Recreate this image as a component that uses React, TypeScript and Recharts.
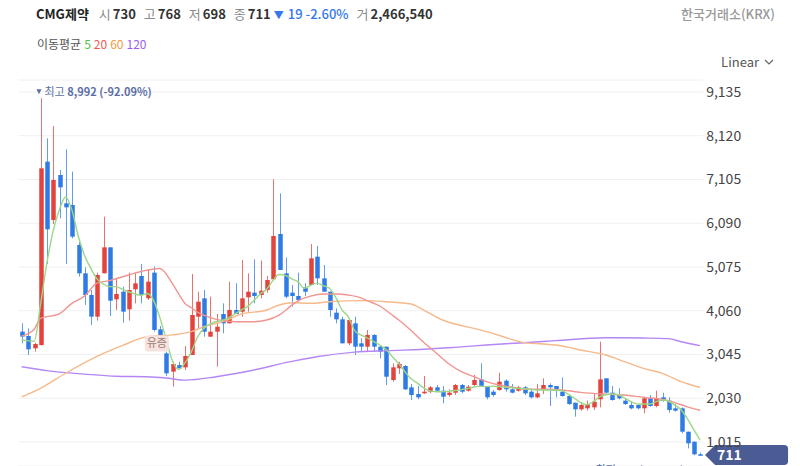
import { ComposedChart, Bar, Line, XAxis, YAxis, CartesianGrid, ReferenceDot } from 'recharts';

const FONT = '"Noto Sans CJK KR", "Noto Sans", sans-serif';
const RED = '#e3433d';
const BLUE = '#2f7be6';

// daily candles, oldest first
const opens = [
  3575, 3474, 3188, 3265, 7519, 6165, 7209, 6552, 6513, 5585, 4928, 4426, 3923, 4928, 5531, 4325, 4503, 4093, 4557, 4866,
  4348, 4944, 3629, 3072, 2647, 2801, 2747, 3033, 3922, 4348, 3458, 3574, 3984, 3768, 4077, 4038, 4371, 4479, 4425, 4541,
  4789, 5840, 4928, 4479, 4402, 4600, 4657, 5314, 4812, 4502, 4015, 3861, 3304, 3768, 3304, 3226, 3497, 3226, 3226, 2453,
  2724, 2778, 2283, 2128, 2144, 2182, 2283, 2205, 2105, 2159, 2337, 2205, 2337, 2468, 2314, 2182, 2221, 2437, 2237, 2205,
  2283, 2182, 2051, 2221, 2337, 2314, 2182, 2082, 1927, 1773, 1796, 1819, 2005, 2492, 2159, 2105, 1974, 1873, 1873, 1796,
  2028, 1850, 2051, 1974, 1796, 1796, 1254, 1022, 730,
];
const highs = [
  3768, 3652, 3320, 8992, 8060, 8346, 7325, 7805, 7287, 5663, 5067, 4541, 4944, 6243, 5531, 4812, 4619, 4944, 4928, 5145,
  5021, 5083, 3706, 3111, 2879, 2879, 3242, 4912, 4502, 4541, 4386, 3984, 4232, 4734, 4696, 5237, 4928, 5252, 5222, 4866,
  7108, 6784, 5299, 4657, 4943, 4700, 5608, 5562, 5121, 4502, 4116, 3922, 3861, 3922, 3420, 3613, 3520, 3265, 3226, 2840,
  2878, 2801, 2360, 2314, 2546, 2314, 2337, 2314, 2237, 2360, 2360, 2337, 2569, 2840, 2314, 2221, 2623, 2468, 2360, 2314,
  2314, 2221, 2360, 2492, 2376, 2314, 2515, 2105, 1927, 1927, 1974, 2128, 3342, 2492, 2314, 2260, 2028, 1950, 1890, 2066,
  2105, 2205, 2159, 2051, 1896, 1819, 1254, 1022, 768,
];
const lows = [
  3304, 3034, 3111, 3250, 5145, 6073, 6204, 5145, 5740, 4851, 4194, 3730, 3830, 4928, 3938, 4078, 3784, 3830, 4232, 4232,
  4310, 3575, 3304, 2546, 2299, 2724, 2685, 3033, 3652, 3458, 3458, 2762, 3536, 3768, 3984, 3922, 4038, 4232, 4348, 4479,
  4789, 5005, 4348, 4154, 4270, 4400, 4657, 4657, 4502, 3922, 3768, 3304, 3265, 3033, 3110, 3110, 3110, 2956, 2337, 2414,
  2592, 2221, 1989, 2005, 2128, 2144, 2182, 1912, 2066, 2105, 2144, 2182, 2314, 2298, 2005, 2066, 2205, 2182, 2144, 2182,
  2105, 2028, 2028, 2128, 1850, 2051, 2066, 1873, 1603, 1742, 1742, 1757, 1819, 2144, 1974, 2005, 1873, 1773, 1773, 1680,
  1834, 1819, 1950, 1695, 1719, 1216, 868, 705, 698,
];
const closes = [
  3459, 3165, 3289, 7364, 5949, 7093, 6923, 6459, 5779, 4928, 4426, 3923, 4889, 5531, 4294, 4449, 4039, 4541, 4696, 4426,
  4735, 3614, 3498, 2608, 2825, 2724, 3010, 3961, 4270, 3574, 3574, 3690, 3768, 4077, 3984, 4348, 4502, 4402, 4526, 4773,
  5794, 5005, 4386, 4402, 4309, 4500, 5276, 4812, 4502, 4077, 3861, 3304, 3845, 3226, 3226, 3497, 3226, 3110, 2530, 2747,
  2824, 2237, 2105, 2051, 2182, 2283, 2205, 2066, 2159, 2337, 2182, 2298, 2453, 2314, 2051, 2105, 2414, 2237, 2159, 2283,
  2144, 2051, 2144, 2337, 2283, 2205, 2082, 1896, 1773, 1873, 1896, 1950, 2468, 2159, 1989, 2028, 1896, 1796, 1796, 2028,
  1850, 2028, 1974, 1757, 1742, 1254, 984, 730, 711,
];

// moving averages as [candle index, value]
const ma5 = [
  [0, 3380], [1, 3360], [2, 3350], [3, 4200], [4, 5150], [5, 5900], [6, 6400], [7, 6700], [8, 6400], [9, 5800],
  [10, 5350], [11, 5050], [12, 4800], [13, 4680], [14, 4620], [15, 4620], [16, 4560], [17, 4500], [18, 4450], [19, 4420],
  [20, 4460], [21, 4300], [22, 3900], [23, 3400], [24, 2900], [25, 2700], [26, 2850], [27, 3100], [28, 3450], [29, 3650],
  [30, 3750], [31, 3810], [32, 3840], [33, 3900], [34, 3990], [35, 4080], [36, 4160], [37, 4300], [38, 4450], [39, 4560],
  [40, 4760], [41, 4900], [42, 4880], [43, 4800], [44, 4730], [45, 4580], [46, 4650], [47, 4700], [48, 4640], [49, 4580],
  [50, 4370], [51, 4080], [52, 3920], [53, 3600], [54, 3500], [55, 3430], [56, 3350], [57, 3265], [58, 3160], [59, 3000],
  [60, 2840], [61, 2650], [62, 2480], [63, 2380], [64, 2270], [65, 2200], [66, 2182], [67, 2182], [68, 2190], [69, 2210],
  [70, 2230], [71, 2255], [72, 2290], [73, 2310], [74, 2300], [75, 2310], [76, 2300], [77, 2285], [78, 2275], [79, 2260],
  [80, 2250], [81, 2237], [82, 2220], [84, 2220], [86, 2210], [87, 2120], [88, 2030], [89, 1930], [90, 1880], [91, 1950],
  [92, 2060], [93, 2110], [94, 2128], [95, 2110], [96, 2030], [97, 1950], [98, 1900], [99, 1896], [100, 1896], [101, 1950],
  [102, 1990], [103, 1960], [104, 1870], [105, 1757], [106, 1550], [107, 1300], [108, 1060],
];
const ma20 = [
  [0, 3470], [2, 3630], [3, 3880], [6, 3990], [8, 4230], [10, 4400], [12, 4700], [14, 4760], [17, 4890], [19, 4970],
  [22, 5040], [24, 4690], [25, 4450], [26, 4230], [27, 4130], [28, 4030], [29, 3960], [31, 3860], [34, 3806], [37, 3806],
  [39, 3845], [41, 3960], [43, 4190], [44, 4290], [46, 4400], [48, 4448], [50, 4448], [52, 4425], [54, 4360], [55, 4294],
  [57, 4170], [59, 3960], [60, 3850], [62, 3600], [64, 3330], [66, 3080], [68, 2830], [70, 2646], [72, 2530], [74, 2414],
  [76, 2337], [78, 2290], [80, 2240], [83, 2237], [86, 2221], [89, 2165], [93, 2125], [96, 2105], [99, 2051], [102, 2005],
  [104, 1930], [106, 1830], [108, 1750],
];
const ma60 = [
  [0, 2060], [3, 2260], [7, 2610], [12, 3000], [16, 3250], [20, 3460], [24, 3500], [27, 3575], [29, 3690], [32, 3806],
  [35, 3984], [39, 4077], [41, 4193], [43, 4247], [46, 4232], [49, 4270], [54, 4294], [58, 4270], [62, 4216], [64, 4077],
  [67, 3845], [69, 3752], [72, 3652], [75, 3536], [78, 3396], [80, 3319], [83, 3288], [86, 3242], [89, 3149], [93, 3033],
  [96, 2878], [99, 2724], [102, 2608], [105, 2414], [108, 2280],
];
const ma120 = [
  [0, 2760], [4, 2670], [10, 2590], [15, 2540], [20, 2530], [23, 2500], [26, 2450], [31, 2530], [37, 2685], [42, 2855],
  [47, 2994], [53, 3100], [58, 3134], [64, 3165], [69, 3211], [74, 3265], [80, 3319], [85, 3366], [93, 3435], [99, 3427],
  [103, 3412], [105, 3340], [108, 3250],
];

const yTicks = [1015, 2030, 3045, 4060, 5075, 6090, 7105, 8120, 9135];

const rows = opens.map((o, i) => ({
  i,
  open: o,
  high: highs[i],
  low: lows[i],
  close: closes[i],
  range: [lows[i], highs[i]],
  ma5: null as number | null,
  ma20: null as number | null,
  ma60: null as number | null,
  ma120: null as number | null,
}));
([['ma5', ma5], ['ma20', ma20], ['ma60', ma60], ['ma120', ma120]] as const).forEach(([key, pts]) => {
  pts.forEach(([idx, v]) => {
    (rows[idx] as any)[key] = v;
  });
});

const Candle = (props: any) => {
  const { x, y, width, height, payload } = props;
  const { open, close, high, low } = payload;
  const color = close >= open ? RED : BLUE;
  const cx = Math.round(x + width / 2) + 0.5;
  const top = Math.min(y, y + height);
  const h = Math.abs(height);
  const py = (v: number) => top + ((high - v) / (high - low || 1)) * h;
  const bTop = py(Math.max(open, close));
  const bBot = py(Math.min(open, close));
  return (
    <g>
      <line x1={cx} x2={cx} y1={top} y2={top + h} stroke={color} strokeWidth={1} strokeOpacity={0.75} />
      <rect x={cx - 2.25} y={bTop} width={4.5} height={Math.max(1.5, bBot - bTop)} fill={color} />
    </g>
  );
};

const HighLabel = (p: any) => (
  <g>
    <path d={`M${p.cx - 4},${p.cy - 9} L${p.cx + 1},${p.cy - 9} L${p.cx - 1.5},${p.cy - 4} Z`} fill="#5b6fa6" />
    <text x={p.cx + 4} y={p.cy - 2} fontSize={11} fill="#5b6fa6" fontFamily={FONT}>
      최고 <tspan fontWeight={600}>8,992 (-92.09%)</tspan>
    </text>
  </g>
);

const LowLabel = (p: any) => (
  <text x={p.cx - 16} y={p.cy + 18} fontSize={11} fill="#5b6fa6" textAnchor="end" fontFamily={FONT}>
    최저 698 (+1.86%)
  </text>
);

const RightsTag = (p: any) => (
  <g>
    <rect x={p.cx - 15} y={p.cy - 8} width={24} height={16} rx={3} fill="#f6e3df" />
    <text x={p.cx - 3} y={p.cy + 4} fontSize={11} fill="#9c7a70" textAnchor="middle" fontFamily={FONT}>
      유증
    </text>
  </g>
);

const PriceBadge = (p: any) => {
  const x0 = p.cx + 5;
  const y0 = p.cy;
  return (
    <g>
      <path
        d={`M${x0},${y0} L${x0 + 10},${y0 - 10} L${x0 + 79},${y0 - 10} Q${x0 + 83},${y0 - 10} ${x0 + 83},${y0 - 6} L${x0 + 83},${y0 + 6} Q${x0 + 83},${y0 + 10} ${x0 + 79},${y0 + 10} L${x0 + 10},${y0 + 10} Z`}
        fill="#4b5b93"
      />
      <text x={x0 + 12} y={y0 + 5} fontSize={14} fontWeight={600} fill="#ffffff" fontFamily={FONT}>
        711
      </text>
    </g>
  );
};

const gray = { color: '#8a8a8a', marginRight: 2 };
const val = { color: '#333', fontWeight: 600, marginRight: 8 };

export default function App() {
  return (
    <div style={{ position: 'absolute', left: 0, top: 0, width: 800, height: 480, background: '#fff', fontFamily: FONT }}>
      <div style={{ position: 'absolute', left: 36, top: 5, fontSize: 13, lineHeight: '18px', whiteSpace: 'nowrap' }}>
        <span style={{ color: '#222', fontWeight: 700, marginRight: 10 }}>CMG제약</span>
        <span style={gray}>시</span>
        <span style={val}>730</span>
        <span style={gray}>고</span>
        <span style={val}>768</span>
        <span style={gray}>저</span>
        <span style={val}>698</span>
        <span style={gray}>종</span>
        <span style={{ ...val, marginRight: 3 }}>711</span>
        <span style={{ color: '#3478f0', fontSize: 10, marginRight: 4 }}>▼</span>
        <span style={{ color: '#3478f0', fontWeight: 500, marginRight: 8 }}>19 -2.60%</span>
        <span style={gray}>거</span>
        <span style={val}>2,466,540</span>
      </div>
      <div style={{ position: 'absolute', right: 25, top: 5, fontSize: 13, lineHeight: '18px', color: '#999', fontWeight: 500 }}>
        한국거래소(KRX)
      </div>
      <div style={{ position: 'absolute', left: 37, top: 35, fontSize: 12, lineHeight: '18px', whiteSpace: 'nowrap' }}>
        <span style={{ color: '#555', marginRight: 3 }}>이동평균</span>
        <span style={{ color: '#4fc33f', marginRight: 3 }}>5</span>
        <span style={{ color: '#f05a55', marginRight: 3 }}>20</span>
        <span style={{ color: '#f39a45', marginRight: 3 }}>60</span>
        <span style={{ color: '#9c5cf0' }}>120</span>
      </div>
      <div style={{ position: 'absolute', right: 25, top: 53, fontSize: 13, lineHeight: '18px', color: '#555', display: 'flex', alignItems: 'center' }}>
        Linear
        <svg width={12} height={12} style={{ marginLeft: 4 }}>
          <path d="M2,4 L6,8 L10,4" fill="none" stroke="#666" strokeWidth={1.2} />
        </svg>
      </div>
      <ComposedChart
        width={800}
        height={480}
        data={rows}
        margin={{ top: 80, right: 6.8, bottom: 14, left: 18.5 }}
        style={{ position: 'absolute', left: 0, top: 0 }}
      >
        <CartesianGrid vertical={false} stroke="#f0f0f2" />
        <XAxis dataKey="i" type="category" hide />
        <YAxis
          orientation="right"
          domain={[458, 9413]}
          ticks={yTicks}
          width={90}
          axisLine={false}
          tickLine={false}
          tickSize={0}
          tickMargin={3}
          tick={{ fontSize: 14, fill: '#444', fontFamily: FONT, textAnchor: 'start' }}
          tickFormatter={(v: number) => v.toLocaleString('en-US')}
        />
        <Line dataKey="ma120" type="monotone" stroke="#b487f5" strokeWidth={1.4} dot={false} connectNulls isAnimationActive={false} />
        <Line dataKey="ma60" type="monotone" stroke="#f6b98a" strokeWidth={1.4} dot={false} connectNulls isAnimationActive={false} />
        <Line dataKey="ma20" type="monotone" stroke="#f29490" strokeWidth={1.4} dot={false} connectNulls isAnimationActive={false} />
        <Line dataKey="ma5" type="monotone" stroke="#9bd786" strokeWidth={1.4} dot={false} connectNulls isAnimationActive={false} />
        <Bar dataKey="range" barSize={5} shape={Candle} isAnimationActive={false} />
        <ReferenceDot x={3} y={8992} r={0} shape={HighLabel} ifOverflow="visible" />
        <ReferenceDot x={22} y={3300} r={0} shape={RightsTag} ifOverflow="visible" />
        <ReferenceDot x={108} y={698} r={0} shape={LowLabel} ifOverflow="visible" />
        <ReferenceDot x={108} y={711} r={0} shape={PriceBadge} ifOverflow="visible" />
      </ComposedChart>
    </div>
  );
}
